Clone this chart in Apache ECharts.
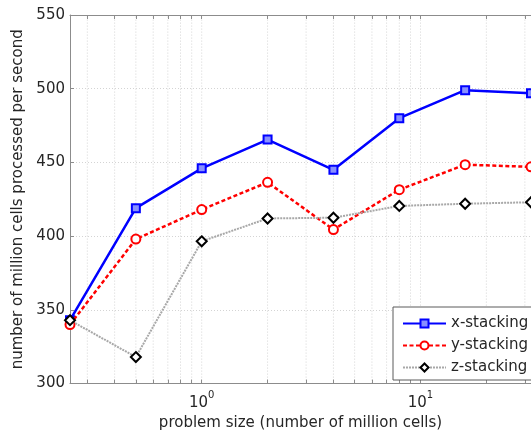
<!DOCTYPE html>
<html>
<head>
<meta charset="utf-8">
<script src="https://cdn.jsdelivr.net/npm/echarts@6/dist/echarts.min.js"></script>
<style>
html,body{margin:0;padding:0;background:#fff;}
#c{width:531px;height:436px;}
</style>
</head>
<body>
<div id="c"></div>
<script>
var problemSizes = [0.25, 0.5, 1, 2, 4, 8, 16, 32];
var xStacking = [343, 419, 446, 465.5, 445, 480, 499, 497];
var yStacking = [340, 398, 418, 436.5, 404.5, 431.5, 448.5, 447];
var zStacking = [343, 318, 396.5, 412, 412.5, 420.5, 422, 423];
var seriesNames = ['x-stacking', 'y-stacking', 'z-stacking'];
var yTicks = [300, 350, 400, 450, 500, 550];
var xLabelValues = [1, 10];
var xGridValues = [0.3, 0.4, 0.5, 0.6, 0.7, 0.8, 0.9, 1, 2, 3, 4, 5, 6, 7, 8, 9, 10, 20, 30];

var FONT = '"DejaVu Sans", Verdana, sans-serif';
var TXT = '#262626';
var AX = '#8c8c8c';

function pairs(vals) { return problemSizes.map(function (x, i) { return [x, vals[i]]; }); }

var chart = echarts.init(document.getElementById('c'), null, {renderer: 'canvas'});
var option = {
  animation: false,
  backgroundColor: '#fff',
  textStyle: {fontFamily: FONT, color: TXT},
  grid: {left: 70, top: 15, bottom: 52, right: -9, containLabel: false},
  legend: {
    data: seriesNames,
    orient: 'vertical',
    left: 393,
    top: 307,
    itemWidth: 43,
    itemHeight: 10,
    itemGap: 7,
    padding: [9, 12, 5, 9],
    backgroundColor: '#fff',
    borderColor: '#5a5a5a',
    borderWidth: 1,
    textStyle: {fontFamily: FONT, fontSize: 15, color: TXT}
  },
  xAxis: [{
    type: 'log', logBase: 10, min: 0.25, max: 32, position: 'bottom',
    name: 'problem size (number of million cells)',
    nameLocation: 'middle', nameGap: 32,
    nameTextStyle: {fontFamily: FONT, fontSize: 15, color: TXT},
    axisLine: {show: true, lineStyle: {color: AX, width: 1}},
    axisTick: {show: true, inside: true, length: 4, lineStyle: {color: AX}, customValues: xGridValues},
    axisLabel: {
      customValues: xLabelValues,
      margin: 7,
      formatter: function (v) { return '{b|10}{s|' + Math.round(Math.log10(v)) + '}'; },
      rich: {
        b: {fontFamily: FONT, fontSize: 15, color: TXT},
        s: {fontFamily: FONT, fontSize: 10, color: TXT, padding: [0, 0, 16, 0]}
      }
    },
    splitLine: {show: false}
  }, {
    type: 'log', logBase: 10, min: 0.25, max: 32, position: 'top',
    axisLine: {show: true, lineStyle: {color: AX, width: 1}},
    axisTick: {show: true, inside: true, length: 4, lineStyle: {color: AX}, customValues: xGridValues},
    axisLabel: {show: false},
    splitLine: {show: false}
  }],
  yAxis: {
    type: 'value', min: 300, max: 550, interval: 50,
    name: 'number of million cells processed per second',
    nameLocation: 'middle', nameGap: 40,
    nameTextStyle: {fontFamily: FONT, fontSize: 15, color: TXT},
    axisLine: {show: true, lineStyle: {color: AX, width: 1}},
    axisTick: {show: true, inside: true, length: 4, lineStyle: {color: AX}},
    axisLabel: {fontFamily: FONT, fontSize: 15, color: TXT, margin: 5,
      formatter: function (v) { return yTicks.indexOf(v) >= 0 ? String(v) : ''; }},
    splitLine: {show: true, lineStyle: {color: '#d4d4d4', type: [1, 2], width: 1}}
  },
  series: [{
    type: 'custom', name: 'grid', silent: true, z: 0,
    data: xGridValues.map(function (v) { return [v, 300]; }),
    encode: {x: 0, y: 1},
    renderItem: function (params, api) {
      var a = api.coord([api.value(0), 300]);
      var b = api.coord([api.value(0), 550]);
      return {type: 'line', shape: {x1: a[0], y1: a[1], x2: b[0], y2: b[1]},
        style: {stroke: '#d4d4d4', lineWidth: 1, lineDash: [1, 2]}};
    }
  }, {
    name: seriesNames[0], type: 'line', data: pairs(xStacking), z: 3,
    symbol: 'rect', symbolSize: 8,
    lineStyle: {color: '#0000ff', width: 2.5},
    itemStyle: {color: '#8890ff', borderColor: '#0000ff', borderWidth: 2}
  }, {
    name: seriesNames[1], type: 'line', data: pairs(yStacking), z: 4,
    symbol: 'circle', symbolSize: 9,
    lineStyle: {color: '#ff0000', width: 2.5, type: [4, 2.5]},
    itemStyle: {color: '#fff', borderColor: '#ff0000', borderWidth: 2}
  }, {
    name: seriesNames[2], type: 'line', data: pairs(zStacking), z: 5,
    symbol: 'diamond', symbolSize: 10,
    lineStyle: {color: '#a8a8a8', width: 2, type: [2, 1]},
    itemStyle: {color: '#fff', borderColor: '#000', borderWidth: 2}
  }]
};
chart.setOption(option);
</script>
</body>
</html>
